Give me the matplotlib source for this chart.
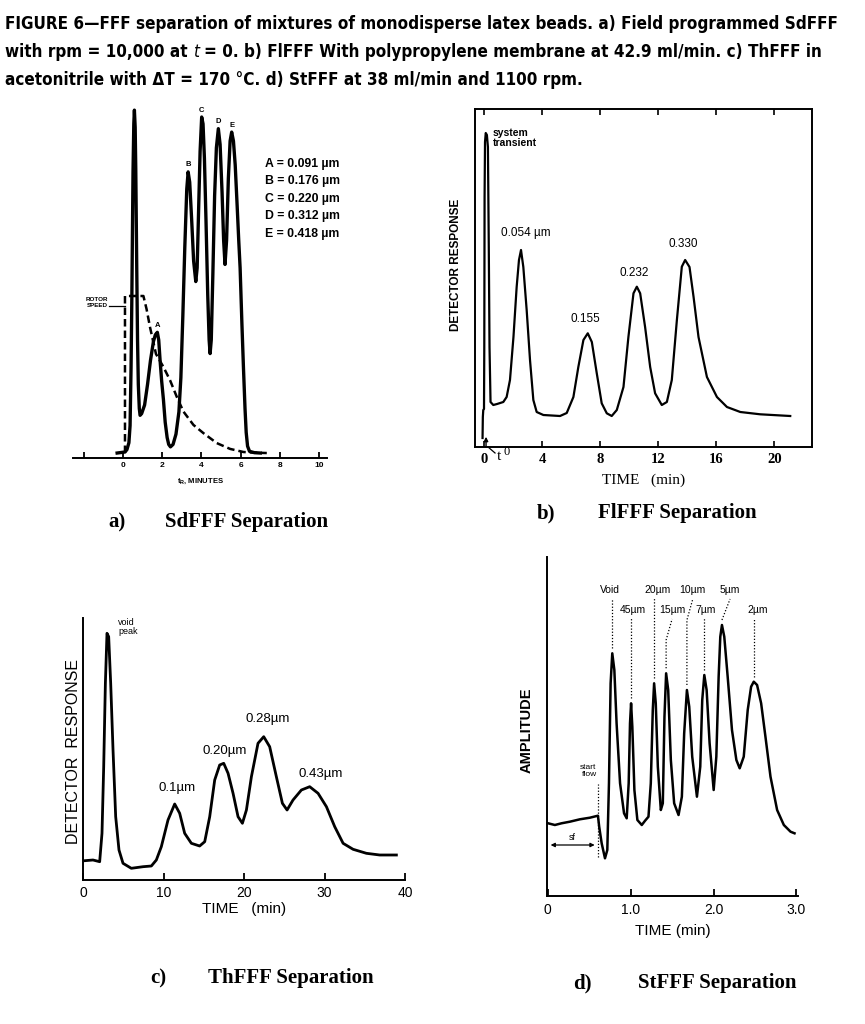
import numpy as np
import matplotlib
matplotlib.use("Agg")
import matplotlib.pyplot as plt
from matplotlib import font_manager as fm

W, H = 865, 1024

plt.rcParams["font.family"] = ["Liberation Sans", "DejaVu Sans"]
plt.rcParams["mathtext.fontset"] = "custom"
plt.rcParams["mathtext.rm"] = "Liberation Serif"
plt.rcParams["mathtext.bf"] = "Liberation Sans:bold"
plt.rcParams["axes.linewidth"] = 1.4

SERIF = ["Liberation Serif", "DejaVu Serif"]

# ---- a) SdFFF, field programmed ----
a_time = [-0.3, 0.1, 0.2, 0.3, 0.36, 0.41, 0.45, 0.48, 0.51, 0.55, 0.58, 0.62, 0.65,
          0.70, 0.74, 0.78, 0.83, 0.87, 0.95, 1.1, 1.25, 1.4, 1.55, 1.65, 1.75, 1.82,
          1.89, 1.97, 2.06, 2.15, 2.25, 2.33, 2.42, 2.55, 2.7, 2.85, 2.95, 3.05, 3.15,
          3.25, 3.32, 3.4, 3.5, 3.6, 3.71, 3.78, 3.85, 3.93, 4.01, 4.08, 4.15, 4.23,
          4.32, 4.39, 4.44, 4.5, 4.58, 4.67, 4.76, 4.86, 4.95, 5.05, 5.13, 5.2, 5.28,
          5.37, 5.46, 5.54, 5.63, 5.72, 5.82, 5.9, 5.97, 6.06, 6.14, 6.22, 6.28, 6.35,
          6.45, 6.7, 7.0]
a_signal = [0, 0.3, 1, 3, 8, 25, 45, 64, 82, 96, 100, 95, 83,
            54, 33, 20, 13, 11, 11.5, 14, 20, 27, 32.5, 34.5, 35.2, 33,
            27, 21, 15.6, 9, 4.5, 2.5, 1.8, 2.5, 5.5, 12, 22, 40, 60,
            77, 82, 79, 68, 56, 50, 54, 70, 88, 98, 96, 86, 68,
            46, 33, 29, 33, 52, 75, 89, 94.6, 90, 76, 62, 55, 62,
            80, 91, 93.6, 91, 84, 72, 62, 54, 38, 25, 13, 6, 2,
            0.5, 0.1, 0]
a_rotor_time = [0.1, 0.1, 1.04, 1.2, 1.38, 1.68, 2.06, 2.4, 2.74, 3.08, 3.59, 4.1,
                4.78, 5.46, 6.14, 6.7, 7.33]
a_rotor_speed = [0, 45.8, 45.8, 42, 36.6, 28.9, 25.1, 21.2, 16.4, 12.1, 8.2, 5.8,
                 2.9, 1.2, 0.3, 0.1, 0]
a_peaks = ["A", "B", "C", "D", "E"]
a_peak_time = [1.75, 3.32, 4.01, 4.86, 5.54]
a_sizes = ["0.091", "0.176", "0.220", "0.312", "0.418"]
a_ticks = [-2, 0, 2, 4, 6, 8, 10]
a_ticklabels = ["", "0", "2", "4", "6", "8", "10"]

# ---- b) FlFFF ----
b_time = [-0.1, -0.08, -0.05, 0.0, 0.02, 0.04, 0.07, 0.12, 0.2, 0.27, 0.33, 0.38, 0.45,
          0.64, 0.9, 1.33, 1.56, 1.79, 2.03, 2.25, 2.41, 2.55, 2.71, 2.94, 3.17, 3.4,
          3.63, 4.09, 5.24, 5.7, 6.16, 6.5, 6.85, 7.15, 7.43, 7.77, 8.11, 8.46, 8.8,
          9.15, 9.61, 9.95, 10.3, 10.53, 10.76, 11.1, 11.45, 11.79, 12.25, 12.6, 12.94,
          13.29, 13.63, 13.86, 14.16, 14.44, 14.78, 15.36, 16.05, 16.74, 17.66, 19.03,
          21.1]
b_signal = [9, 30, 37, 38, 100, 250, 305, 314, 312, 300, 200, 100, 45,
            42, 43, 45, 50, 67, 110, 160, 187, 197, 180, 137, 87, 47,
            35, 32, 31, 34, 50, 80, 107, 113.7, 105, 73.7, 43.7, 33.7, 31,
            37, 60, 110, 153.7, 160.3, 153.7, 120, 80, 53.7, 42, 45, 67,
            127, 180.3, 187, 180, 150, 110, 70, 50, 40, 35, 32.7,
            31]
b_labels = ["0.054 µm", "0.155", "0.232", "0.330"]
b_label_time = [2.9, 6.97, 10.34, 13.7]
b_label_level = [214, 128, 174, 203]
b_ticks = [0, 4, 8, 12, 16, 20]

# ---- c) ThFFF ----
c_time = [0.21, 1.24, 2.07, 2.36, 2.57, 2.78, 2.98, 3.19, 3.44, 3.73, 4.06, 4.47, 4.97,
          6.0, 7.46, 8.49, 9.11, 9.73, 10.56, 11.39, 12.01, 12.63, 13.46, 14.49, 15.12,
          15.74, 16.36, 16.98, 17.48, 18.02, 18.64, 19.26, 19.8, 20.3, 20.92, 21.74,
          22.45, 23.19, 24.02, 24.77, 25.35, 26.09, 27.13, 28.16, 29.2, 30.24, 31.27,
          32.31, 33.55, 35.2, 36.86, 38.93]
c_signal = [19.3, 20, 18.3, 46.7, 113, 196.7, 246.7, 243.3, 196.7, 130, 63.3, 30, 16.7,
            11.7, 13.3, 14, 20, 33.3, 60, 76, 66.7, 46.7, 36.7, 34, 38.3,
            63.3, 100, 115, 116.7, 106.7, 86.7, 63.3, 56.7, 70, 103.3, 136.7,
            143.3, 133.3, 103.3, 76.7, 70, 80, 90, 93.3, 86.7, 73.3, 53.3,
            36.7, 30.7, 26.7, 25, 25]
c_labels = ["0.1µm", "0.20µm", "0.28µm", "0.43µm"]
c_label_time = [11.65, 17.6, 22.9, 29.5]
c_label_level = [92, 129, 161, 106]
c_ticks = [0, 10, 20, 30, 40]

# ---- d) StFFF ----
d_time = [0.004, 0.085, 0.165, 0.266, 0.387, 0.508, 0.605, 0.62, 0.65, 0.69, 0.718,
          0.738, 0.758, 0.778, 0.803, 0.83, 0.872, 0.92, 0.952, 0.976, 0.992, 1.005,
          1.02, 1.045, 1.081, 1.134, 1.174, 1.215, 1.243, 1.267, 1.283, 1.303, 1.328,
          1.364, 1.388, 1.408, 1.428, 1.453, 1.485, 1.525, 1.578, 1.618, 1.646, 1.679,
          1.707, 1.743, 1.8, 1.84, 1.864, 1.889, 1.917, 1.953, 2.002, 2.034, 2.062,
          2.082, 2.102, 2.13, 2.171, 2.223, 2.276, 2.316, 2.365, 2.413, 2.454, 2.486,
          2.526, 2.575, 2.627, 2.688, 2.768, 2.849, 2.93, 2.978]
d_amp = [72.7, 71, 72.7, 74.3, 76.7, 78.3, 80.3, 69.3, 52.7, 37.7, 46,
         112.7, 212.7, 242.7, 226, 172.7, 112.7, 82.7, 77.7, 112.7, 172.7, 192.7,
         169.3, 106, 76, 71, 75.3, 79.3, 112.7, 186, 212.7, 192.7, 129.3,
         86, 92.7, 179.3, 222.7, 206, 136, 92.7, 81, 99.3, 162.7, 206,
         189.3, 139.3, 99.3, 129.3, 196, 221, 206, 152.7, 106, 139.3, 219.3,
         259.3, 271, 259.3, 219.3, 166, 136, 127.7, 139.3, 186, 209.3, 214.3,
         211, 192.7, 159.3, 119.3, 86, 71, 64.3, 62.7]
d_labels = ["Void", "45µm", "20µm", "15µm", "10µm", "7µm", "5µm", "2µm"]
d_peak_time = [0.778, 1.005, 1.283, 1.428, 1.679, 1.889, 2.102, 2.486]
d_label_time = [0.75, 1.03, 1.33, 1.50, 1.75, 1.91, 2.20, 2.53]
d_label_row = [0, 1, 0, 1, 0, 1, 0, 1]
d_start_flow = 0.609
d_ticks = [0, 1, 2, 3]
d_ticklabels = ["0", "1.0", "2.0", "3.0"]

title_line1 = "FIGURE 6\u2014FFF separation of mixtures of monodisperse latex beads. a) Field programmed SdFFF"
title_line2 = ["with rpm = 10,000 at", "t", "= 0. b) FlFFF With polypropylene membrane at 42.9 ml/min. c) ThFFF in"]
title_line3 = "acetonitrile with \u0394T = 170 \u00b0C. d) StFFF at 38 ml/min and 1100 rpm."


def px_axes(fig, left, top, right, bottom):
    return fig.add_axes([left / W, 1 - bottom / H, (right - left) / W, (bottom - top) / H])


def bare(ax, keep=("bottom",)):
    for side in ("left", "right", "top", "bottom"):
        ax.spines[side].set_visible(side in keep)
    ax.set_yticks([])
    ax.patch.set_alpha(0)


def narrow_family():
    # the caption face is a condensed bold sans; use one if the box has it
    for f in fm.fontManager.ttflist:
        if ("Narrow" in f.name or "Condensed" in f.name or
                str(f.stretch) in ("condensed", "semi-condensed", "extra-condensed")):
            return f.name, f.stretch
    return "Liberation Sans", "normal"


fig = plt.figure(figsize=(W / 100, H / 100), dpi=100)
renderer = fig.canvas.get_renderer()

# ---------- title ----------
fam, stretch = narrow_family()
tkw = dict(family=[fam, "Liberation Sans", "DejaVu Sans"], stretch=stretch,
           weight="bold", va="baseline", ha="left")
t1 = fig.text(5 / W, 1 - 29 / H, title_line1, fontsize=15, **tkw)
size = 15 * 838 / t1.get_window_extent(renderer).width
t1.set_fontsize(size)
fig.text(5 / W, 1 - 85 / H, title_line3, fontsize=size, **tkw)

probe = fig.text(0, 0, "xx", fontsize=size, **tkw)
gap = -probe.get_window_extent(renderer).width
probe.set_text("x x")
gap += probe.get_window_extent(renderer).width
probe.remove()

x = 5
for i, piece in enumerate(title_line2):
    kw = dict(tkw)
    if i == 1:
        kw.update(style="italic", weight="normal")
    txt = fig.text(x / W, 1 - 57 / H, piece, fontsize=size, **kw)
    x = txt.get_window_extent(renderer).x1 + gap

# ---------- a ----------
ax = px_axes(fig, 73, 105, 327, 458)
bare(ax)
ax.plot(a_time, a_signal, color="k", lw=2.4, solid_joinstyle="round")
ax.plot(a_rotor_time, a_rotor_speed, color="k", lw=1.8, ls=(0, (3, 1.6)))
ax.set_xlim(-2.55, 10.4)
ax.set_ylim(-1.45, 101.5)
ax.set_xticks(a_ticks)
ax.set_xticklabels(a_ticklabels, fontsize=6, fontweight="bold")
ax.tick_params(axis="x", direction="in", length=4, width=1.3, pad=3)
ax.set_xlabel(r"$\mathbf{t_R}$, MINUTES", fontsize=5.5, fontweight="bold", labelpad=5)
for lab, t in zip(a_peaks, a_peak_time):
    ax.text(t, np.interp(t, a_time, a_signal) + 1, lab, ha="center", va="bottom",
            fontsize=5.5, fontweight="bold")
for i, (lab, sz) in enumerate(zip(a_peaks, a_sizes)):
    ax.text(7.24, 84.3 - 5.1 * i, f"{lab} = {sz} µm", fontsize=8.8, fontweight="bold",
            va="center", ha="left")
ax.text(-0.75, 44, "ROTOR\nSPEED", fontsize=4.5, fontweight="bold", ha="right",
        va="center", linespacing=1.3)
ax.plot([-0.7, 0.1], [42.9, 42.9], color="k", lw=0.9)

fig.text(108 / W, 1 - 522 / H, "a)", family=SERIF, weight="bold", fontsize=15, va="center")
fig.text(165 / W, 1 - 522 / H, "SdFFF Separation", family=SERIF, weight="bold",
         fontsize=15, va="center")

# ---------- b ----------
ax = px_axes(fig, 475, 109, 812, 447)
ax.patch.set_alpha(0)
ax.plot(b_time, b_signal, color="k", lw=1.6)
ax.set_xlim(-0.62, 22.6)
ax.set_ylim(0, 338)
ax.set_yticks([])
ax.set_xticks(b_ticks)
ax.set_xticklabels([str(t) for t in b_ticks], family=SERIF, fontweight="bold", fontsize=10.5)
ax.tick_params(axis="x", direction="in", top=True, length=4, width=1.2, pad=4)
ax.set_xlabel("TIME   (min)", family=SERIF, fontsize=11, labelpad=6)
ax.text(-0.055, 0.54, "DETECTOR RESPONSE", transform=ax.transAxes, rotation=90,
        fontsize=8.5, fontweight="bold", ha="center", va="center")
ax.text(0.62, 319, "system\ntransient", fontsize=7.5, fontweight="bold", ha="left",
        va="top", linespacing=1.05)
for lab, t, lev in zip(b_labels, b_label_time, b_label_level):
    ax.text(t, lev, lab, fontsize=8.5, ha="center", va="center")
ax.annotate("", xy=(0.14, 13), xytext=(0.14, -3),
            arrowprops=dict(arrowstyle="-|>", lw=1, color="k", mutation_scale=6),
            annotation_clip=False)
ax.plot([0.28, 0.76], [0, -6], color="k", lw=0.9, clip_on=False)
ax.text(0.85, -10, "t", family=SERIF, fontsize=11, ha="left", va="center", clip_on=False)
ax.text(1.35, -5, "0", family=SERIF, fontsize=9, ha="left", va="center", clip_on=False)

fig.text(537 / W, 1 - 513 / H, "b)", family=SERIF, weight="bold", fontsize=15, va="center")
fig.text(598 / W, 1 - 513 / H, "FlFFF Separation", family=SERIF, weight="bold",
         fontsize=15, va="center")

# ---------- c ----------
ax = px_axes(fig, 83, 618, 405, 880)
bare(ax, keep=("bottom", "left"))
ax.plot(c_time, c_signal, color="k", lw=2)
ax.set_xlim(0, 40)
ax.set_ylim(0, 262)
ax.set_xticks(c_ticks)
ax.set_xticklabels([str(t) for t in c_ticks], fontsize=10)
ax.tick_params(axis="x", direction="in", length=5, width=1.3, pad=4)
ax.set_xlabel("TIME   (min)", fontsize=11, labelpad=2)
ax.text(-0.031, 0.49, "DETECTOR  RESPONSE", transform=ax.transAxes, rotation=90,
        fontsize=11.5, ha="center", va="center")
ax.text(4.4, 262, "void\npeak", fontsize=6.5, ha="left", va="top", linespacing=0.95)
for lab, t, lev in zip(c_labels, c_label_time, c_label_level):
    ax.text(t, lev, lab, fontsize=9.5, ha="center", va="center")

fig.text(150 / W, 1 - 978 / H, "c)", family=SERIF, weight="bold", fontsize=15, va="center")
fig.text(208 / W, 1 - 978 / H, "ThFFF Separation", family=SERIF, weight="bold",
         fontsize=15, va="center")

# ---------- d ----------
ax = px_axes(fig, 547, 557, 798, 896)
bare(ax, keep=("bottom", "left"))
ax.plot(d_time, d_amp, color="k", lw=1.8)
ax.set_xlim(-0.01, 3.02)
ax.set_ylim(0, 339)
ax.set_xticks(d_ticks)
ax.set_xticklabels(d_ticklabels, fontsize=10)
ax.tick_params(axis="x", direction="in", length=5, width=1.3, pad=5)
ax.set_xlabel("TIME (min)", fontsize=11, labelpad=5)
ax.text(-0.08, 0.49, "AMPLITUDE", transform=ax.transAxes, rotation=90,
        fontsize=10.5, fontweight="bold", ha="center", va="center")
row_level = [306, 286]
for lab, tp, tl, row in zip(d_labels, d_peak_time, d_label_time, d_label_row):
    lev = row_level[row]
    ax.text(tl, lev, lab, fontsize=7.5, ha="center", va="center")
    top = np.interp(tp, d_time, d_amp) + 5
    if abs(tl - tp) > 0.06:
        xs, ys = [tp, tp, tl], [top, lev - 30, lev - 9]
    else:
        xs, ys = [tp, tp], [top, lev - 8]
    ax.plot(xs, ys, color="k", lw=0.9, ls=(0, (1, 1.5)))
ax.plot([d_start_flow, d_start_flow], [39, 112], color="k", lw=0.9, ls=(0, (1, 1.5)))
ax.text(d_start_flow - 0.02, 125, "start\nflow", fontsize=6, ha="right", va="center",
        linespacing=0.95)
ax.annotate("", xy=(0.0, 51), xytext=(d_start_flow - 0.01, 51),
            arrowprops=dict(arrowstyle="<|-|>", lw=0.9, color="k", mutation_scale=6))
ax.text(0.29, 58, "sf", fontsize=6.5, ha="center", va="center")

fig.text(573 / W, 1 - 983 / H, "d)", family=SERIF, weight="bold", fontsize=15, va="center")
fig.text(638 / W, 1 - 983 / H, "StFFF Separation", family=SERIF, weight="bold",
         fontsize=15, va="center")

fig.savefig("out.png", dpi=100)
